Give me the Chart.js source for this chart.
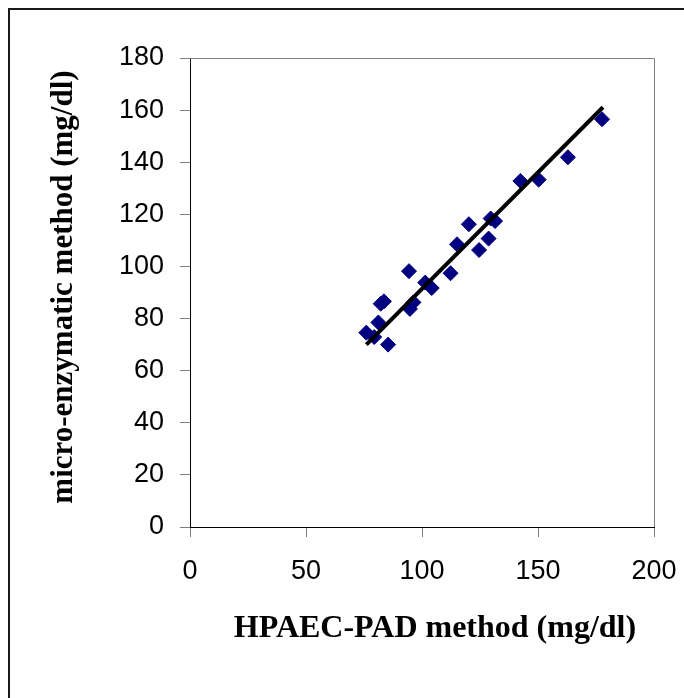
<!DOCTYPE html>
<html>
<head>
<meta charset="utf-8">
<script src="https://cdn.jsdelivr.net/npm/chart.js@4.4.1/dist/chart.umd.min.js"></script>
<style>
    html, body { margin: 0; padding: 0; background: #fff; }
    #wrap { position: relative; width: 684px; height: 698px; overflow: hidden; }
    #frame { position: absolute; left: 8px; top: 8px; right: -4px; bottom: -4px;
             border-left: 2px solid #1a1a1a; border-top: 2px solid #1a1a1a; }
    canvas { position: absolute; left: 0; top: 0; }
</style>
</head>
<body>
<div id="wrap">
    <div id="frame"></div>
    <canvas id="scatterChart" width="684" height="698"></canvas>
</div>
<script>
// HPAEC-PAD (x) vs micro-enzymatic (y), mg/dl
const hpaecValues = [76.0, 79.4, 81.2, 82.2, 83.6, 85.4, 94.4, 94.8, 96.3, 101.4, 104.2,
    112.3, 115.1, 120.2, 124.6, 128.7, 129.6, 131.5, 142.4, 150.3, 162.9, 177.6];
const enzymaticValues = [74.6, 72.9, 78.5, 85.7, 86.6, 70.0, 98.2, 83.7, 86.2, 93.8, 91.7,
    97.4, 108.5, 116.2, 106.3, 110.7, 118.4, 117.4, 132.8, 133.3, 141.9, 156.5];

// fitted line end points
const trendX = [76.0, 178.0];
const trendY = [70.0, 161.1];

const xTicks = [0, 50, 100, 150, 200];
const yTicks = [0, 20, 40, 60, 80, 100, 120, 140, 160, 180];

const xTitle = "HPAEC-PAD method (mg/dl)";
const yTitle = "micro-enzymatic method (mg/dl)";

const points = hpaecValues.map((x, i) => ({ x: x, y: enzymaticValues[i] }));
const trend = trendX.map((x, i) => ({ x: x, y: trendY[i] }));

const plotFrame = {
    id: "plotFrame",
    beforeDatasetsDraw(chart) {
        const a = chart.chartArea;
        const ctx = chart.ctx;
        ctx.save();
        ctx.strokeStyle = "#808080";
        ctx.lineWidth = 1;
        ctx.beginPath();
        ctx.moveTo(a.left, a.top + 0.5);
        ctx.lineTo(a.right + 0.5, a.top + 0.5);
        ctx.lineTo(a.right + 0.5, a.bottom);
        ctx.stroke();
        ctx.restore();
    }
};

const axisTitles = {
    id: "axisTitles",
    afterDraw(chart) {
        const ctx = chart.ctx;
        ctx.save();
        ctx.fillStyle = "#000";
        ctx.font = "bold 32px 'Liberation Serif', 'Times New Roman', serif";
        ctx.textAlign = "center";
        ctx.textBaseline = "alphabetic";
        ctx.fillText(xTitle, 435, 637);
        ctx.font = "bold 31px 'Liberation Serif', 'Times New Roman', serif";
        ctx.translate(72, 287);
        ctx.rotate(-Math.PI / 2);
        ctx.fillText(yTitle, 0, 0);
        ctx.restore();
    }
};

new Chart(document.getElementById("scatterChart"), {
    type: "scatter",
    data: {
        datasets: [
            {
                label: "samples",
                data: points,
                pointStyle: "rectRot",
                pointRadius: 7.5,
                pointHoverRadius: 7.5,
                backgroundColor: "#000080",
                borderColor: "#000080",
                borderWidth: 1,
                order: 2
            },
            {
                type: "line",
                label: "fit",
                data: trend,
                borderColor: "#000",
                borderWidth: 4,
                pointRadius: 0,
                fill: false,
                order: 1
            }
        ]
    },
    options: {
        responsive: false,
        animation: false,
        layout: { padding: { top: 58, right: 30, left: 0, bottom: 0 } },
        plugins: {
            legend: { display: false },
            tooltip: { enabled: false }
        },
        scales: {
            x: {
                type: "linear",
                min: 0,
                max: 200,
                afterFit: (s) => { s.height = 171; s.paddingLeft = 0; s.paddingRight = 0; },
                afterBuildTicks: (s) => { s.ticks = xTicks.map(v => ({ value: v })); },
                grid: { drawOnChartArea: false, color: "#808080", tickLength: 10, tickWidth: 1 },
                border: { color: "#000", width: 1 },
                ticks: {
                    padding: 18,
                    color: "#000",
                    font: { family: "'Liberation Sans', Arial, sans-serif", size: 27 }
                }
            },
            y: {
                type: "linear",
                min: 0,
                max: 180,
                afterFit: (s) => { s.width = 190; s.paddingTop = 0; s.paddingBottom = 0; },
                afterBuildTicks: (s) => { s.ticks = yTicks.map(v => ({ value: v })); },
                grid: { drawOnChartArea: false, color: "#808080", tickLength: 10, tickWidth: 1 },
                border: { color: "#000", width: 1 },
                ticks: {
                    padding: 16,
                    color: "#000",
                    font: { family: "'Liberation Sans', Arial, sans-serif", size: 27 }
                }
            }
        }
    },
    plugins: [plotFrame, axisTitles]
});
</script>
</body>
</html>
